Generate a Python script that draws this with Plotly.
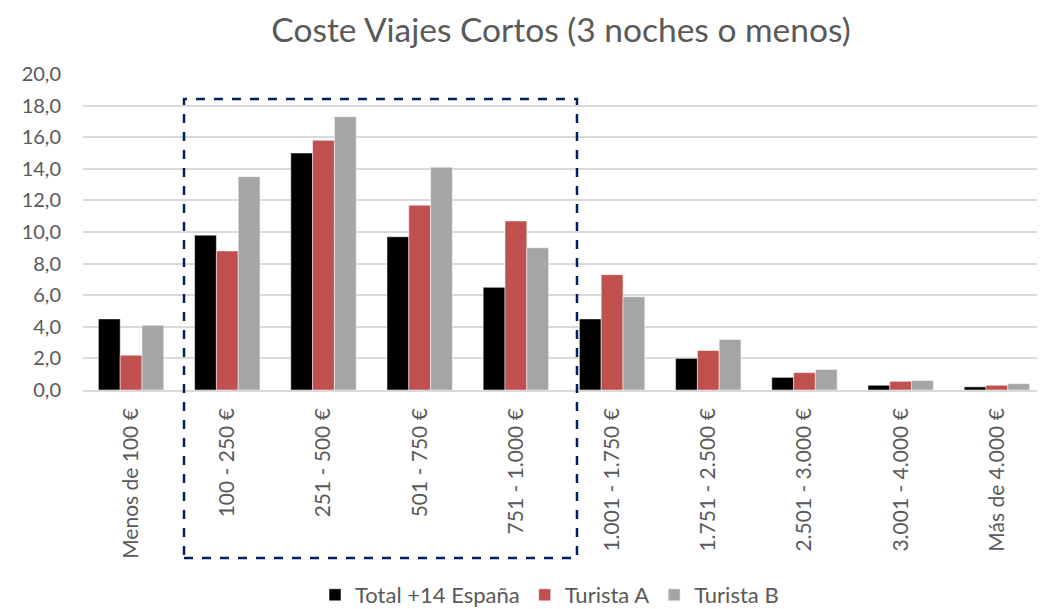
import plotly.graph_objects as go

categories = ["Menos de 100 €", "100 - 250 €", "251 - 500 €", "501 - 750 €", "751 - 1.000 €",
              "1.001 - 1.750 €", "1.751 - 2.500 €", "2.501 - 3.000 €", "3.001 - 4.000 €", "Más de 4.000 €"]
total_espana = [4.5, 9.8, 15.0, 9.7, 6.5, 4.5, 2.0, 0.8, 0.3, 0.2]
turista_a = [2.2, 8.8, 15.8, 11.7, 10.7, 7.3, 2.5, 1.1, 0.55, 0.3]
turista_b = [4.1, 13.5, 17.3, 14.1, 9.0, 5.9, 3.2, 1.3, 0.6, 0.4]
y_ticks = [0, 2, 4, 6, 8, 10, 12, 14, 16, 18, 20]

series = [("Total +14 España", total_espana, "#000000"),
          ("Turista A", turista_a, "#C0504D"),
          ("Turista B", turista_b, "#A5A5A5")]

FONT = "Lato"
GREY_TXT = "#595959"

fig = go.Figure()
for name, vals, col in series:
    fig.add_trace(go.Bar(x=list(range(len(categories))), y=vals, name=name,
                         marker=dict(color=col, line=dict(color="rgba(255,255,255,0.5)", width=1))))

OFF = 8  # page body margin
W, H = 1045 - OFF, 609 - OFF
L, R, T, B = 83 - OFF, 0, 74 - OFF, 609 - 390
ph = H - T - B
base = T + ph  # fig pixel of y=0

def py(page_y):
    return (base - (page_y - OFF)) / ph

fig.update_layout(
    width=W, height=H,
    margin=dict(l=L, r=R, t=T, b=B, autoexpand=False),
    paper_bgcolor="white", plot_bgcolor="white",
    separators=",.",
    barmode="group", bargap=0.32, bargroupgap=0,
    title=dict(text="Coste Viajes Cortos (3 noches o menos)", x=(561 - OFF) / W, xanchor="center",
               y=1 - (30 - OFF) / H, yanchor="middle",
               font=dict(family=FONT, size=33.5, color=GREY_TXT)),
    font=dict(family=FONT, color=GREY_TXT, size=20),
    showlegend=True,
    legend=dict(orientation="h", xref="container", yref="container",
                x=(330 - OFF - 15) / W, xanchor="left",
                y=1 - (595 - OFF) / H, yanchor="middle",
                font=dict(family=FONT, size=22, color=GREY_TXT), itemwidth=30,
                traceorder="normal"),
    xaxis=dict(tickmode="array", tickvals=list(range(len(categories))), ticktext=categories,
               tickangle=-90, range=[-0.5, len(categories) - 0.5], showgrid=False,
               showline=True, linecolor="#d9d9d9", linewidth=1.5, ticks="", automargin=False,
               tickfont=dict(family=FONT, size=21, color=GREY_TXT), ticklabelstandoff=8),
    yaxis=dict(range=[0, 20], tickmode="array", tickvals=y_ticks, tickformat=".1f",
               showgrid=True, gridcolor="#d9d9d9", gridwidth=1.5, zeroline=False,
               ticks="", ticklabelstandoff=21, automargin=False,
               tickfont=dict(family=FONT, size=20, color=GREY_TXT)),
)

# dashed highlight box around categories 1-4
fig.add_shape(type="rect", xref="x", yref="paper",
              x0=0.55, x1=4.635, y0=py(558), y1=py(99),
              line=dict(color="#002060", width=2.5, dash="dash"), fillcolor="rgba(0,0,0,0)", layer="above")

fig.write_html("out.html")
